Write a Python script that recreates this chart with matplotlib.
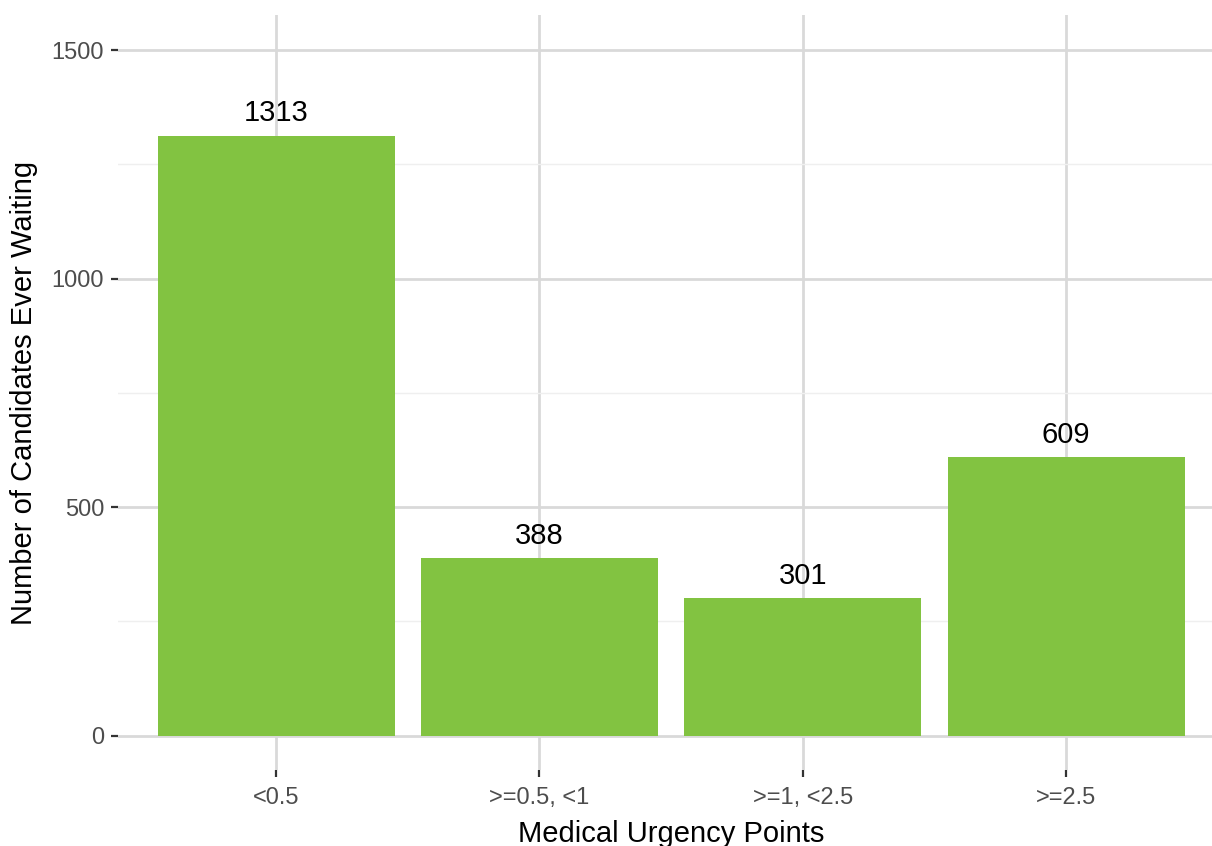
import matplotlib
matplotlib.use("Agg")
import matplotlib.pyplot as plt
from matplotlib.ticker import MultipleLocator

plt.rcParams['font.family'] = ['Liberation Sans', 'DejaVu Sans']

# data
categories = ["<0.5", ">=0.5, <1", ">=1, <2.5", ">=2.5"]
counts = [1313, 388, 301, 609]
y_ticks = [0, 500, 1000, 1500]

fig = plt.figure(figsize=(12.12, 8.46), dpi=100)
# panel runs slightly past the right edge, like the reference
ax = fig.add_axes([118 / 1212, 76 / 846, 1106 / 1212, 755 / 846])

x = list(range(1, len(categories) + 1))
bars = ax.bar(x, counts, width=0.9, color="#82c341", zorder=2)

for xi, c in zip(x, counts):
    ax.annotate(str(c), (xi, c), xytext=(0, 6), textcoords="offset points",
                ha="center", va="bottom", fontsize=21, color="black")

ax.set_xlim(0.4, 4.6)
ax.set_ylim(-75, 1577)
ax.set_xticks(x)
ax.set_xticklabels(categories)
ax.set_yticks(y_ticks)
ax.yaxis.set_minor_locator(MultipleLocator(250))

# ggplot-ish minimal theme
for s in ax.spines.values():
    s.set_visible(False)
ax.set_axisbelow(True)
ax.grid(which="major", color="#d9d9d9", linewidth=2.0)
ax.grid(which="minor", axis="y", color="#efefef", linewidth=1.0)
ax.tick_params(axis="both", which="major", length=5, width=1.6, color="#333333",
               labelcolor="#4d4d4d", labelsize=17, pad=5)
ax.tick_params(axis="y", which="minor", length=0)
ax.tick_params(axis="x", pad=7)

ax.set_xlabel("Medical Urgency Points", fontsize=21, color="black", labelpad=8)
ax.set_ylabel("Number of Candidates Ever Waiting", fontsize=21, color="black", labelpad=10)

fig.savefig("out.png", dpi=100, facecolor="white")
